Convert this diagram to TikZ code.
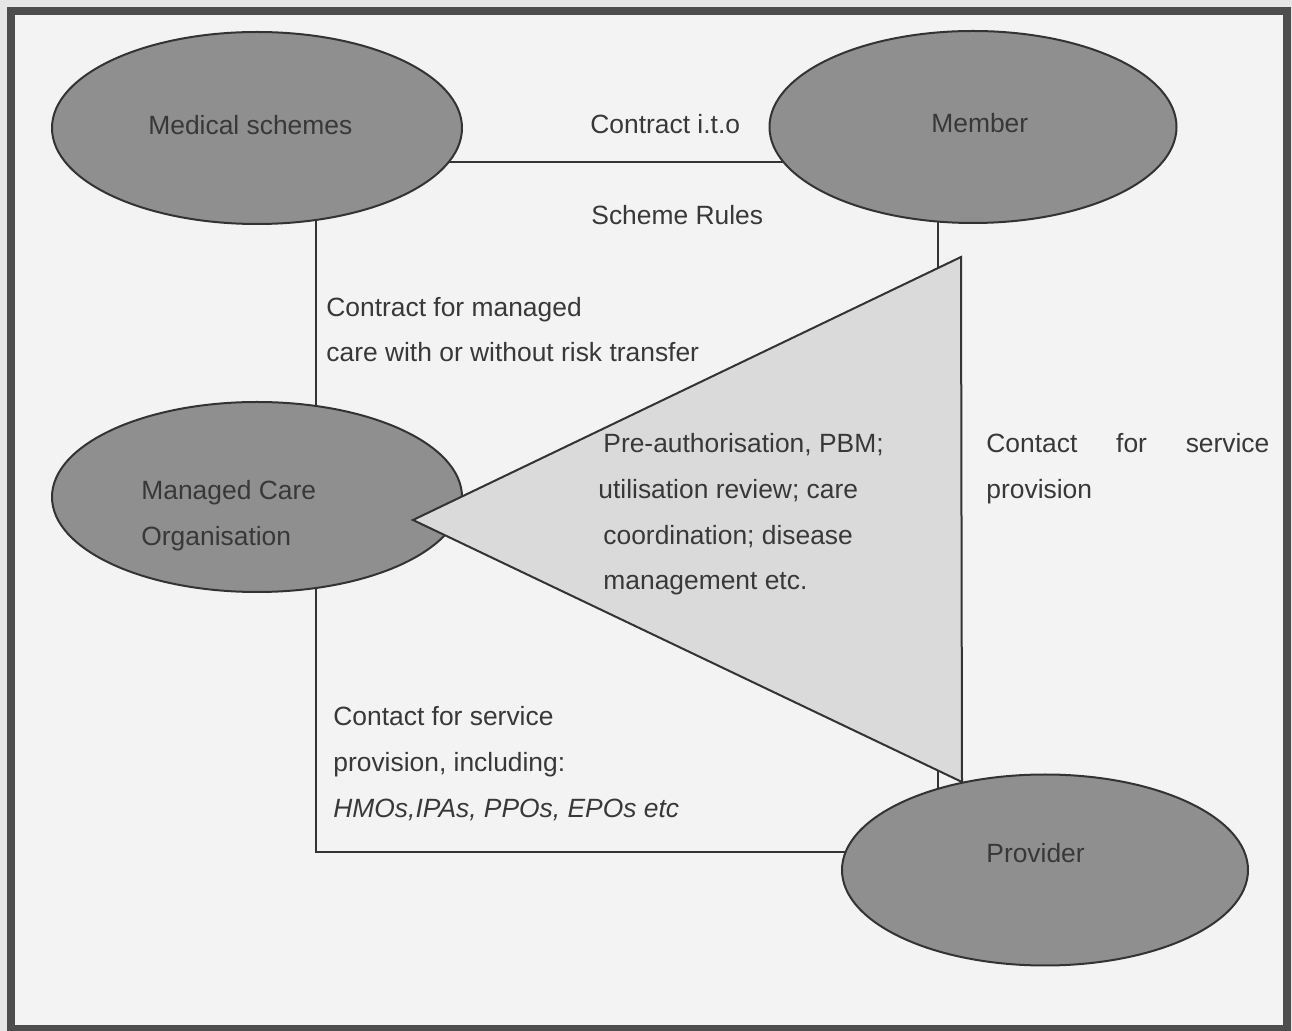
\documentclass[tikz,border=0pt]{standalone}
\usepackage{fontspec}
\setmainfont{Liberation Sans}
\usetikzlibrary{shapes.geometric,backgrounds}
\definecolor{bgout}{HTML}{E6E6E6}
\definecolor{bgin}{HTML}{F3F3F3}
\definecolor{framec}{HTML}{4D4D4D}
\definecolor{ellfill}{HTML}{8F8F8F}
\definecolor{trifill}{HTML}{DADADA}
\definecolor{inkc}{HTML}{333333}
\definecolor{txtc}{HTML}{383838}
\begin{document}
\begin{tikzpicture}[x=0.5pt,y=-0.5pt,
  party/.style={ellipse, draw=inkc, line width=1pt, fill=ellfill, inner sep=0pt},
  lbl/.style={text=txtc, font=\fontsize{13.2}{16}\selectfont, inner sep=0pt, anchor=base west},
  ilbl/.style={lbl, font=\fontsize{13.2}{16}\selectfont\itshape},
  conn/.style={draw=inkc, line width=1pt}]
\useasboundingbox (0,0) rectangle (1292,1031);
% parties
\node[party, minimum width=205pt, minimum height=96pt] (ms) at (257,128) {};
\node[party, minimum width=203.5pt, minimum height=96pt] (mem) at (973,127) {};
\node[party, minimum width=205pt, minimum height=95pt] (mco) at (257,497) {};
% managed care activities triangle
\coordinate (tapex) at (413,520);
\coordinate (ttop) at (961,257);
\coordinate (tbot) at (962,782);
\draw[conn, fill=trifill, line join=miter] (tapex) -- (ttop) -- (tbot) -- cycle;
\node[party, minimum width=203pt, minimum height=95.5pt] (prov) at (1045,870) {};
% helper coordinates for connectors
\coordinate (topline) at (0,162);
\coordinate (lb) at (316,852);
\coordinate (rv) at (938,0);
\begin{scope}[on background layer]
  \fill[bgout] (0,0) rectangle (1292,1031);
  \draw[framec, line width=4pt, fill=bgin] (11,11) rectangle (1287,1029);
  \draw[conn] (ms |- topline) -- (mem |- topline);
  \draw[conn] (lb |- ms) -- (lb) -- (prov |- lb);
  \draw[conn] (rv |- mem) -- (rv |- prov);
\end{scope}
% texts
\node[lbl] (tms) at (148,135) {Medical schemes};
\node[lbl] (tmem) at (931,133) {Member};
\node[lbl] (tmco1) at (141,500) {Managed Care};
\node[lbl] (tmco2) at (141,546) {Organisation};
\node[lbl] (tprov) at (986,863) {Provider};
\node[lbl] (cito) at (590,134) {Contract i.t.o};
\node[lbl] (srules) at (591,225) {Scheme Rules};
\node[lbl] (cm1) at (326,317) {Contract for managed};
\node[lbl] (cm2) at (326,362) {care with or without risk transfer};
\node[lbl] (pa1) at (603,453) {Pre-authorisation, PBM;};
\node[lbl] (pa2) at (598,499) {utilisation review; care};
\node[lbl] (pa3) at (603,545) {coordination; disease};
\node[lbl] (pa4) at (603,590) {management etc.};
\node[lbl] (cs1) at (986,453) {\makebox[141.5pt][s]{Contact for service}};
\node[lbl] (cs2) at (986,499) {provision};
\node[lbl] (sp1) at (333,726) {Contact for service};
\node[lbl] (sp2) at (333,772) {provision, including:};
\node[ilbl] (sp3) at (333,818) {HMOs,IPAs, PPOs, EPOs etc};
\end{tikzpicture}
\end{document}
